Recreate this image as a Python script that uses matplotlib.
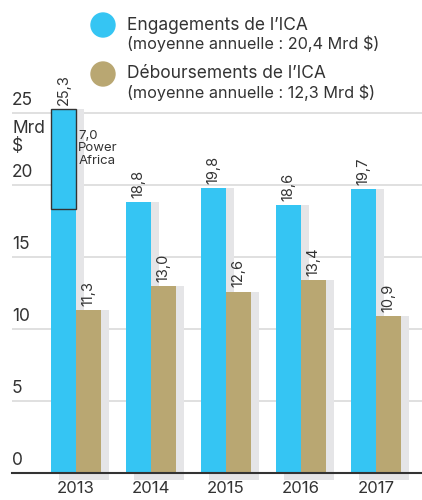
import matplotlib.pyplot as plt
from matplotlib.patches import Ellipse

plt.rcParams['font.family'] = ['Inter', 'DejaVu Sans']

years = ['2013', '2014', '2015', '2016', '2017']
engagements = [25.3, 18.8, 19.8, 18.6, 19.7]
decaissements = [11.3, 13.0, 12.6, 13.4, 10.9]
power_africa = 7.0
eng_labels = ['25,3', '18,8', '19,8', '18,6', '19,7']
dec_labels = ['11,3', '13,0', '12,6', '13,4', '10,9']
yticks = [0, 5, 10, 15, 20, 25]

BLUE = '#35C5F3'
TAN = '#B9A772'
SHADOW = '#E5E5E7'
DARK = '#333333'

W, H = 422, 500
fig = plt.figure(figsize=(W / 100, H / 100), dpi=100)

# axes geometry in pixels
px_left, px_right, px_base = 12, 422, 473
ppu = 14.4           # pixels per y unit
ymax = 26.0
ax = fig.add_axes([px_left / W, (H - px_base) / H,
                   (px_right - px_left) / W, ymax * ppu / H])

xs = list(range(len(years)))
bw = 25 / 75
dx = 8 / 75
dy = 7 / ppu

# gray shadows
for i in xs:
    ax.bar(i - bw / 2 + dx, engagements[i] + dy, bw, bottom=-dy, color=SHADOW,
           zorder=1, clip_on=False)
    ax.bar(i + bw / 2 + dx, decaissements[i] + dy, bw, bottom=-dy, color=SHADOW,
           zorder=1, clip_on=False)

ax.bar([x - bw / 2 for x in xs], engagements, bw, color=BLUE, zorder=3)
ax.bar([x + bw / 2 for x in xs], decaissements, bw, color=TAN, zorder=3)

# Power Africa segment outline
pa_bottom = engagements[0] - power_africa
ax.bar(-bw / 2, power_africa, bw, bottom=pa_bottom, facecolor='none',
       edgecolor=DARK, linewidth=1.0, zorder=4)
ax.text(0.03, engagements[0] - 1.45, '7,0\nPower\nAfrica', fontsize=9.5,
        color='#333333', ha='left', va='top', linespacing=1.1, zorder=5)

for i in xs:
    ax.annotate(eng_labels[i], (i - bw / 2, engagements[i]), xytext=(0, 3),
                textcoords='offset points', rotation=90, ha='center', va='bottom',
                fontsize=10.5, color='#333333')
    ax.annotate(dec_labels[i], (i + bw / 2, decaissements[i]), xytext=(0, 3),
                textcoords='offset points', rotation=90, ha='center', va='bottom',
                fontsize=10.5, color='#333333')

# grid lines
for v in yticks[1:]:
    ax.axhline(v, color='#DADADA', linewidth=1.2, zorder=0)
ax.axhline(0, color=DARK, linewidth=1.5, zorder=6, clip_on=False)

ax.set_xlim(-(76 - px_left) / 75, (px_right - 76) / 75)
ax.set_ylim(0, ymax)
ax.set_xticks(xs)
ax.set_xticklabels(years, fontsize=12, color='#333333')
ax.tick_params(axis='x', length=0, pad=6)
ax.set_yticks([])
for s in ax.spines.values():
    s.set_visible(False)

# y labels above the gridlines, left aligned
for v in yticks:
    ax.annotate(str(v), (0, v), xycoords=('axes fraction', 'data'),
                xytext=(0, 3), textcoords='offset points', ha='left', va='bottom',
                fontsize=12.5, color='#333333')
ax.annotate('Mrd\n$', (0, 25), xycoords=('axes fraction', 'data'),
            xytext=(0, -5), textcoords='offset points', ha='left', va='top',
            fontsize=12.5, color='#333333', linespacing=1.05)

# legend
def fx(p):
    return p / W

def fy(p):
    return 1 - p / H

for cy, col, title, sub in [
        (25, BLUE, 'Engagements de l\u2019ICA', '(moyenne annuelle : 20,4 Mrd $)'),
        (74, TAN, 'D\u00e9boursements de l\u2019ICA', '(moyenne annuelle : 12,3 Mrd $)')]:
    fig.add_artist(Ellipse((fx(103), fy(cy)), 24 / W, 24 / H, color=col,
                           transform=fig.transFigure))
    fig.text(fx(127), fy(cy), title, fontsize=12.5, color='#333333',
             ha='left', va='center')
    fig.text(fx(127), fy(cy + 19), sub, fontsize=11.7, color='#333333',
             ha='left', va='center')

fig.savefig('out.png', dpi=100)
